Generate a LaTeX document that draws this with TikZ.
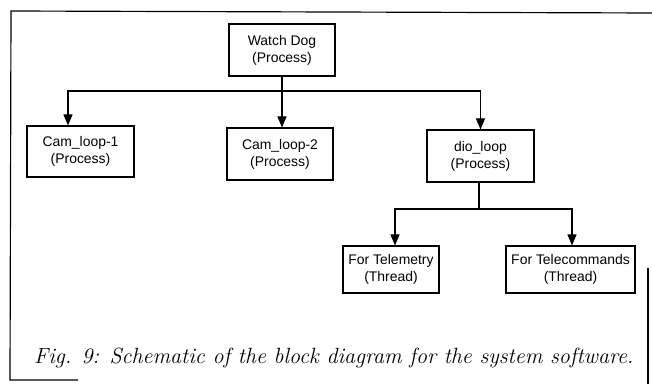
\documentclass[tikz,border=0pt]{standalone}
\usepackage{fontspec}
\usepackage{tikz}
\usetikzlibrary{arrows.meta}
\newfontfamily\bdsans{Liberation Sans}
\tikzset{
  bdbox/.style={draw=black, line width=0.9pt, fill=white, inner sep=0pt,
    align=center, font=\bdsans\fontsize{11.9}{14.4}\selectfont},
  bdwire/.style={line width=0.9pt, draw=black},
  bdlink/.style={bdwire, -{Triangle[length=0.33cm, width=0.27cm]}},
  bdframe/.style={line width=1pt, draw=black},
}

\begin{document}
\begin{tikzpicture}
\useasboundingbox (0,0) rectangle (19.560,11.520);
% page frame round the figure
\draw[bdframe] (2.340,0.120) -- (0.300,0.120) -- (0.330,11.190) -- (19.560,11.130);
\draw[bdframe] (19.440,3.480) -- (19.440,0.000);
% processes
\node[bdbox, minimum width=3.18cm, minimum height=1.56cm] (wd) at (8.460,10.020) {Watch Dog\\(Process)};
\node[bdbox, minimum width=3.21cm, minimum height=1.53cm] (cam1) at (2.415,6.975) {Cam\_loop-1\\(Process)};
\node[bdbox, minimum width=3.18cm, minimum height=1.56cm] (cam2) at (8.400,6.900) {Cam\_loop-2\\(Process)};
\node[bdbox, minimum width=3.21cm, minimum height=1.56cm] (dio) at (14.415,6.840) {dio\_loop\\(Process)};
% threads of dio_loop
\node[bdbox, minimum width=2.88cm, minimum height=1.41cm] (tlm) at (11.730,3.435) {For Telemetry\\(Thread)};
\node[bdbox, minimum width=3.87cm, minimum height=1.41cm] (tc) at (17.115,3.435) {For Telecommands\\(Thread)};
% watch dog fan-out
\coordinate (wdbus) at (8.460,8.790);
\draw[bdwire] (wd.south) -- (wdbus);
\draw[bdlink] (wdbus) -| ([xshift=-0.375cm]cam1.north);
\draw[bdlink] (wdbus) -- (wdbus |- cam2.north);
\draw[bdlink] (wdbus) -| (dio.north);
% dio_loop fan-out
\coordinate (diobus) at (14.370,5.250);
\draw[bdwire] (dio.south -| diobus) -- (diobus);
\draw[bdlink] (diobus) -| ([xshift=0.120cm]tlm.north);
\draw[bdlink] (diobus) -| ([xshift=0.045cm]tc.north);
% caption
\node[anchor=base west, inner sep=0pt, font=\itshape\fontsize{18.8}{22}\selectfont] (cap) at (1.020,0.600)
  {Fig. 9: Schematic of the block diagram for the system software.};
\end{tikzpicture}
\end{document}
